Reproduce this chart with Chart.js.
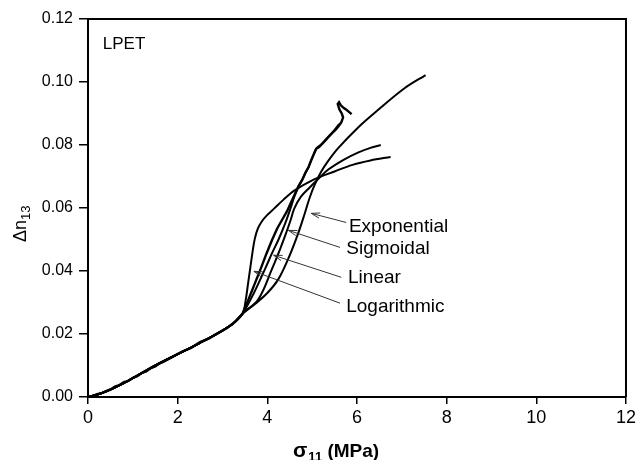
<!DOCTYPE html>
<html>
<head>
<meta charset="utf-8">
<script src="https://cdn.jsdelivr.net/npm/chart.js@4.4.1/dist/chart.umd.min.js"></script>
<style>
  html, body { margin: 0; padding: 0; background: #fff; }
  #wrap { width: 639px; height: 460px; }
</style>
</head>
<body>
<div id="wrap"><canvas id="c" width="639" height="460"></canvas></div>
<script>
// ---------- data ----------
const xTickLabels = ['0', '2', '4', '6', '8', '10', '12'];
const yTickLabels = ['0.00', '0.02', '0.04', '0.06', '0.08', '0.10', '0.12'];

// shared low-stress part of all model curves
const baseX = [0, 0.3, 0.6, 0.9, 1.2, 1.5, 2.0, 2.5, 3.0, 3.25];
const baseY = [0, 0.0012, 0.0030, 0.0052, 0.0076, 0.0100, 0.0136, 0.0172, 0.0211, 0.0235];

// experimental (noisy) data
const expX = [0, 0.1, 0.2, 0.3, 0.4, 0.5, 0.6, 0.7, 0.8, 0.9, 1.0, 1.1, 1.2, 1.3, 1.4, 1.5, 1.6, 1.7, 1.9, 2.1, 2.3, 2.5, 2.7, 2.9, 3.1, 3.3, 3.45,
  3.58, 3.72, 3.86, 3.98, 4.1, 4.22, 4.34, 4.44, 4.52, 4.6, 4.69, 4.78, 4.85, 4.92, 4.98, 5.04, 5.09, 5.15, 5.2, 5.28, 5.36, 5.45, 5.52, 5.58, 5.65, 5.69, 5.66, 5.61, 5.57, 5.6, 5.64, 5.7, 5.77, 5.84, 5.88];
const expY = [0, 0.0002, 0.0009, 0.0012, 0.0019, 0.0024, 0.0033, 0.0038, 0.0047, 0.0051, 0.0061, 0.0066, 0.0077, 0.0081, 0.0092, 0.0097, 0.0107, 0.0113, 0.0129, 0.0144, 0.0156, 0.0174, 0.0186, 0.0203, 0.0219, 0.0241, 0.0265,
  0.0310, 0.0360, 0.0410, 0.0455, 0.0497, 0.0535, 0.0565, 0.0590, 0.0615, 0.0640, 0.0668, 0.0690, 0.0712, 0.0730, 0.0752, 0.0772, 0.0788, 0.0793, 0.0800, 0.0812, 0.0825, 0.0838, 0.0848, 0.0858, 0.0872, 0.0888, 0.0900, 0.0912, 0.0930, 0.0936, 0.0926, 0.0918, 0.0911, 0.0903, 0.0898];

// model curves (upper branches)
const logX = [3.45, 3.52, 3.57, 3.62, 3.67, 3.72, 3.79, 3.88, 4.0, 4.15, 4.35, 4.6, 5.0, 5.5, 5.9, 6.3, 6.75];
const logY = [0.0265, 0.031, 0.036, 0.041, 0.046, 0.0502, 0.0535, 0.0558, 0.0578, 0.0598, 0.0625, 0.0655, 0.0688, 0.0716, 0.0737, 0.0751, 0.0762];

const linX = [3.45, 3.7, 3.96, 4.1, 4.25, 4.4, 4.52, 4.6, 4.69, 4.78, 4.85, 4.92, 4.98, 5.04, 5.09, 5.2, 5.36, 5.5, 5.6];
const linY = [0.0265, 0.033, 0.041, 0.0455, 0.0500, 0.0552, 0.0600, 0.0635, 0.0666, 0.0690, 0.0712, 0.0730, 0.0752, 0.0772, 0.0788, 0.0802, 0.0826, 0.0848, 0.0866];

const sigX = [3.45, 3.8, 4.1, 4.3, 4.43, 4.52, 4.6, 4.75, 4.95, 5.14, 5.36, 5.7, 6.02, 6.3, 6.53];
const sigY = [0.0265, 0.031, 0.0405, 0.0475, 0.0525, 0.0562, 0.0598, 0.0636, 0.0666, 0.0693, 0.0722, 0.0753, 0.0776, 0.0791, 0.0800];

const exnX = [3.45, 3.74, 4.0, 4.25, 4.5, 4.69, 4.84, 4.95, 5.06, 5.2, 5.35, 5.58, 6.02, 6.46, 7.06, 7.53];
const exnY = [0.0265, 0.0297, 0.0330, 0.0375, 0.0450, 0.0520, 0.0585, 0.0635, 0.0675, 0.0715, 0.0748, 0.0790, 0.0855, 0.0910, 0.0980, 0.1022];

// labels and arrows (data coordinates)
const labelNames = ['Exponential', 'Sigmoidal', 'Linear', 'Logarithmic'];
const labelX = [5.82, 5.76, 5.80, 5.76];
const labelY = [0.0541, 0.0469, 0.0377, 0.0288];
const arrowFromX = [5.76, 5.62, 5.65, 5.62];
const arrowFromY = [0.0554, 0.0475, 0.0380, 0.0298];
const arrowToX = [4.98, 4.47, 4.14, 3.70];
const arrowToY = [0.0583, 0.0529, 0.0450, 0.0399];

// ---------- build datasets ----------
function pts(xs, ys) { return xs.map((x, i) => ({ x: x, y: ys[i] })); }
function withBase(xs, ys) { return pts(baseX.concat(xs), baseY.concat(ys)); }

const lineStyle = { showLine: true, pointRadius: 0, borderColor: '#000', borderWidth: 2, fill: false };

const datasets = [
  Object.assign({ label: 'Experimental', data: pts(expX, expY), tension: 0 }, lineStyle, { borderWidth: 2.4 }),
  Object.assign({ label: 'Logarithmic', data: withBase(logX, logY), tension: 0.35 }, lineStyle),
  Object.assign({ label: 'Linear', data: withBase(linX, linY), tension: 0.35 }, lineStyle),
  Object.assign({ label: 'Sigmoidal', data: withBase(sigX, sigY), tension: 0.35 }, lineStyle),
  Object.assign({ label: 'Exponential', data: withBase(exnX, exnY), tension: 0.35 }, lineStyle)
];

const FONT = '"Liberation Sans", Arial, Helvetica, sans-serif';

const decor = {
  id: 'decor',
  afterDraw(chart) {
    const ctx = chart.ctx;
    const a = chart.chartArea;
    const xs = chart.scales.x, ys = chart.scales.y;
    ctx.save();
    // frame top & right
    ctx.strokeStyle = '#000';
    ctx.lineWidth = 2;
    ctx.beginPath();
    ctx.moveTo(a.left, a.top);
    ctx.lineTo(a.right, a.top);
    ctx.lineTo(a.right, a.bottom);
    ctx.stroke();

    // LPET
    ctx.fillStyle = '#000';
    ctx.font = '17px ' + FONT;
    ctx.textBaseline = 'middle';
    ctx.textAlign = 'left';
    ctx.fillText('LPET', xs.getPixelForValue(0.33), ys.getPixelForValue(0.1119));

    // annotation labels
    ctx.font = '19px ' + FONT;
    for (let i = 0; i < labelNames.length; i++) {
      ctx.fillText(labelNames[i], xs.getPixelForValue(labelX[i]), ys.getPixelForValue(labelY[i]));
    }
    // arrows
    ctx.strokeStyle = '#333';
    ctx.lineWidth = 1;
    for (let i = 0; i < arrowFromX.length; i++) {
      const x1 = xs.getPixelForValue(arrowFromX[i]), y1 = ys.getPixelForValue(arrowFromY[i]);
      const x2 = xs.getPixelForValue(arrowToX[i]), y2 = ys.getPixelForValue(arrowToY[i]);
      const ang = Math.atan2(y2 - y1, x2 - x1);
      ctx.beginPath();
      ctx.moveTo(x1, y1);
      ctx.lineTo(x2, y2);
      ctx.stroke();
      const L = 9, w = 0.3;
      ctx.beginPath();
      ctx.moveTo(x2 - L * Math.cos(ang - w), y2 - L * Math.sin(ang - w));
      ctx.lineTo(x2, y2);
      ctx.lineTo(x2 - L * Math.cos(ang + w), y2 - L * Math.sin(ang + w));
      ctx.stroke();
    }

    // x axis title: sigma_11 (MPa)
    ctx.fillStyle = '#000';
    ctx.textBaseline = 'alphabetic';
    ctx.textAlign = 'left';
    let tx = a.left + 205;
    const ty = 457;
    ctx.font = 'bold 21px ' + FONT;
    ctx.fillText('σ', tx, ty);
    tx += ctx.measureText('σ').width + 1;
    ctx.font = 'bold 13px ' + FONT;
    ctx.fillText('11', tx, ty + 4);
    tx += ctx.measureText('11').width;
    ctx.font = 'bold 19px ' + FONT;
    ctx.fillText(' (MPa)', tx, ty);

    // y axis title: delta n_13 (rotated)
    ctx.save();
    ctx.translate(26, 242);
    ctx.rotate(-Math.PI / 2);
    ctx.font = '18px ' + FONT;
    ctx.fillText('Δn', 0, 0);
    const w1 = ctx.measureText('Δn').width;
    ctx.font = '13px ' + FONT;
    ctx.fillText('13', w1, 4);
    ctx.restore();

    ctx.restore();
  }
};

new Chart(document.getElementById('c'), {
  type: 'scatter',
  data: { datasets: datasets },
  options: {
    responsive: false,
    animation: false,
    layout: { padding: { top: 19, right: 9, left: 0, bottom: 0 } },
    plugins: { legend: { display: false }, tooltip: { enabled: false } },
    scales: {
      x: {
        type: 'linear', min: 0, max: 12,
        afterBuildTicks: s => { s.ticks = xTickLabels.map(t => ({ value: parseFloat(t) })); },
        ticks: { callback: (v, i) => xTickLabels[i], color: '#000', font: { family: FONT, size: 18 }, padding: 3, maxRotation: 0, autoSkip: false },
        grid: { drawOnChartArea: false, drawTicks: true, tickLength: 7, color: '#000', lineWidth: 1.5 },
        border: { display: true, color: '#000', width: 2 },
        afterFit: s => { s.height = 63; }
      },
      y: {
        type: 'linear', min: 0, max: 0.12,
        afterBuildTicks: s => { s.ticks = yTickLabels.map(t => ({ value: parseFloat(t) })); },
        ticks: { callback: (v, i) => yTickLabels[i], color: '#000', font: { family: FONT, size: 16 }, padding: 6, autoSkip: false },
        grid: { drawOnChartArea: false, drawTicks: true, tickLength: 9, color: '#000', lineWidth: 1.5 },
        border: { display: true, color: '#000', width: 2 },
        afterFit: s => { s.width = 88; }
      }
    }
  },
  plugins: [decor]
});
</script>
</body>
</html>
